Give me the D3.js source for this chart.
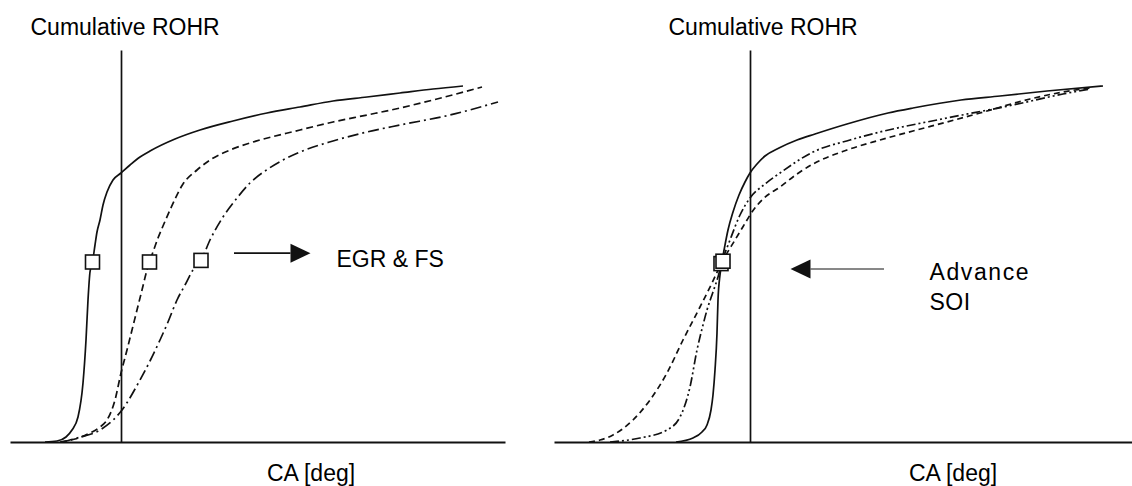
<!DOCTYPE html>
<html>
<head>
<meta charset="utf-8">
<script src="https://cdn.jsdelivr.net/npm/d3@7"></script>
<style>
  html, body { margin: 0; padding: 0; background: #fff; }
  svg { display: block; }
  text { font-family: "Liberation Sans", Arial, sans-serif; fill: #000; }
</style>
</head>
<body>
<script>
// ---------- DATA (CA units, cumulative ROHR units) ----------
const yAxisTitle = "Cumulative ROHR";
const xAxisTitle = "CA [deg]";

// Left panel: effect of EGR & FS
const leftSolid = [[-15.2,0],[-12.8,0.25],[-11,1.25],[-9.8,3],[-8.6,6.25],[-7.6,14.75],[-7,25.5],[-6.6,35.5],[-6.2,42.5],[-5.7,45],[-5.2,49.25],[-4.8,52.5],[-4.2,55.5],[-3.6,59.25],[-2.8,62.5],[-1.6,65.5],[0,67.25],[1.8,69.25],[3.8,71.25],[5.8,72.75],[10.8,75.75],[15.8,78],[22.4,80.25],[29.2,82.25],[35.8,83.75],[42.4,85.25],[49.2,86.25],[55.8,87.25],[62.4,88.25],[68.4,89]];
const leftDashed = [[-12.2,0],[-9.2,0.75],[-6.2,2.25],[-4.2,3.75],[-2.8,5.5],[-1.2,10.5],[0,17.25],[1.2,23],[2.2,28],[3.2,33],[4.2,38],[5.2,43],[5.7,45],[6.4,47.5],[7.4,51],[8.4,54],[9.8,58],[12.4,64.5],[15.2,68],[17.8,70.5],[21.8,73],[25.8,74.75],[35.8,78],[42.4,80],[49.2,81.75],[55.8,83.5],[62.4,85.5],[72.2,88.75]];
const leftDashDot = [[-11.8,0],[-8.8,1],[-4.2,3],[0.2,8],[3.8,15.5],[5.8,20.25],[7.8,25.5],[9.4,30],[11.2,35.5],[12.8,39.25],[14.4,43],[16,45.4],[17.8,50.5],[20.4,56.25],[23.2,61],[25.8,64.75],[29.4,68.25],[32.4,70.5],[35.8,72.5],[42.4,75.25],[49.2,77.5],[55.8,79.25],[65.8,81.75],[75.4,85]];
const leftMarkers = [[-5.7,45],[5.7,45],[16,45.4]];
const leftArrow = [[22.6,47.2],[37.9,47.2]];
const leftLabel = {text: "EGR & FS", at: [43.1,43.8]};

// Right panel: effect of advancing SOI
const rightSolid = [[-14.8,0],[-11.4,1],[-9.6,2.5],[-8.6,4.25],[-7.8,8],[-7.4,11.75],[-7,18],[-6.6,27.25],[-6.4,35.5],[-6,41.75],[-5.6,45],[-5,49.25],[-4.4,53],[-3.4,57.5],[-2.2,61.75],[-1,65],[0,67.25],[1.4,69.5],[3,71.5],[5.8,73.5],[9.4,75.5],[13,77],[19.4,79.5],[27.6,82.25],[32.6,83.5],[42.2,85.5],[50,86.5],[59.4,87.75],[70.6,89]];
const rightDashed = [[-32.2,0],[-30,0.5],[-27.4,1.75],[-23.4,5.5],[-20,10.5],[-16.6,17.25],[-13.4,25.5],[-10,33.75],[-7.6,39.75],[-5.6,45],[-3,50.5],[-0.6,55.5],[0,56.75],[2.6,60.75],[6,63.75],[9.4,67],[12.6,69.5],[19.4,73],[26,75.5],[32.6,77.75],[39.4,80],[46,82.25],[56,85.75],[62.6,87.5],[68,88.5]];
const rightDashDot = [[-28,0],[-22,1],[-16.6,3],[-14,6.25],[-12,13.75],[-10.6,23],[-9.4,29.25],[-8.6,33],[-7.4,37.5],[-6.4,41.25],[-5.6,45],[-4,50.5],[-2,56.75],[0,61],[3,64.5],[6,67.25],[12.6,72.5],[20,75.5],[26,77.5],[39.4,81],[52.6,84.25],[62.6,87],[68,88.25]];
const rightMarkers = [[-5.8,44.6],[-5.4,45.2]];
const rightArrow = [[26.8,43.25],[8.1,43.25]];
const rightLabel = {lines: ["Advance", "SOI"], at: [35.9,40.5], lineStep: 7.5};

// ---------- LAYOUT ----------
const W = 1132, H = 486;
const svg = d3.select("body").append("svg").attr("width", W).attr("height", H);

const y = d3.scaleLinear().domain([0, 98]).range([442, 50]);
const xL = d3.scaleLinear().domain([-22.2, 76.8]).range([10, 505]);
const xR = d3.scaleLinear().domain([-39.2, 76.4]).range([554, 1132]);

const FS = 23;
const INK = "#111";

function panel(x, series, markers, titleX, caX) {
  const g = svg.append("g");
  // horizontal CA axis
  g.append("g").attr("transform", `translate(0,${y(0)})`)
    .call(d3.axisBottom(x).tickValues([]).tickSizeOuter(0))
    .call(s => s.select(".domain").attr("stroke", INK).attr("stroke-width", 1.8));
  // vertical line at TDC
  g.append("g").attr("transform", `translate(${x(0)},0)`)
    .call(d3.axisLeft(y).tickValues([]).tickSizeOuter(0))
    .call(s => s.select(".domain").attr("stroke", INK).attr("stroke-width", 1.7));

  const line = d3.line().x(d => x(d[0])).y(d => y(d[1])).curve(d3.curveMonotoneX);
  series.forEach(s => {
    g.append("path").datum(s.data)
      .attr("d", line)
      .attr("fill", "none")
      .attr("stroke", INK)
      .attr("stroke-width", 1.7)
      .attr("stroke-dasharray", s.dash);
  });
  const sz = 14;
  g.selectAll("rect.m").data(markers).join("rect")
    .attr("class", "m")
    .attr("x", d => x(d[0]) - sz / 2).attr("y", d => y(d[1]) - sz / 2)
    .attr("width", sz).attr("height", sz)
    .attr("fill", "#fff").attr("stroke", INK).attr("stroke-width", 1.6);

  g.append("text").attr("x", titleX).attr("y", 34.5)
    .attr("font-size", FS).text(yAxisTitle);
  g.append("text").attr("x", caX).attr("y", 481)
    .attr("text-anchor", "middle").attr("font-size", FS).text(xAxisTitle);
  return g;
}

function arrow(g, x, pts, width) {
  const [p0, p1] = pts;
  const x0 = x(p0[0]), x1 = x(p1[0]), yy = y(p0[1]);
  const dir = Math.sign(x1 - x0);
  const headLen = 20, headHalf = 9.5;
  g.append("line").attr("x1", x0).attr("y1", yy).attr("x2", x1 - dir * headLen).attr("y2", yy)
    .attr("stroke", INK).attr("stroke-width", width);
  g.append("path")
    .attr("d", `M${x1},${yy} L${x1 - dir * headLen},${yy - headHalf} L${x1 - dir * headLen},${yy + headHalf} Z`)
    .attr("fill", INK);
}

const gl = panel(xL, [
  {data: leftSolid, dash: null},
  {data: leftDashed, dash: "7,4"},
  {data: leftDashDot, dash: "11,4,2,4"}
], leftMarkers, 30.5, 311);
arrow(gl, xL, leftArrow, 1.7);
gl.append("text").attr("x", xL(leftLabel.at[0])).attr("y", y(leftLabel.at[1]))
  .attr("font-size", FS).text(leftLabel.text);

const gr = panel(xR, [
  {data: rightSolid, dash: null},
  {data: rightDashed, dash: "6,4"},
  {data: rightDashDot, dash: "9,3,2,3,2,3"}
], rightMarkers, 668.5, 953);
arrow(gr, xR, rightArrow, 1.0);
rightLabel.lines.forEach((t, i) => {
  gr.append("text").attr("x", xR(rightLabel.at[0]))
    .attr("y", y(rightLabel.at[1] - i * rightLabel.lineStep))
    .attr("font-size", FS)
    .attr("letter-spacing", i === 0 ? 1.6 : 0.5)
    .text(t);
});
</script>
</body>
</html>
